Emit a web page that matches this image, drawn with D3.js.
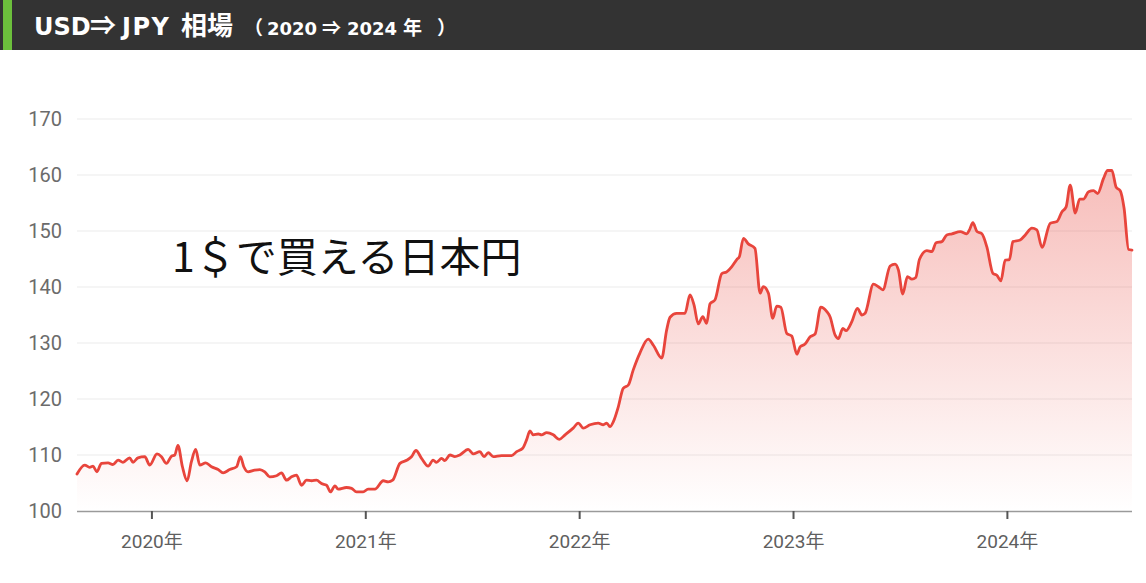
<!DOCTYPE html>
<html>
<head>
<meta charset="utf-8">
<script src="https://cdn.jsdelivr.net/npm/d3@7"></script>
<style>
  html, body { margin: 0; padding: 0; background: #fff; }
  svg { display: block; }
</style>
</head>
<body>
<svg id="chart" width="1146" height="583"></svg>
<script>
// ---- data (decimal year, USD/JPY) ----
const years = [
  2019.652, 2019.688, 2019.711, 2019.727, 2019.745, 2019.766, 2019.797, 2019.820, 2019.844, 2019.867,
  2019.898, 2019.914, 2019.937, 2019.969, 2019.992, 2020.026, 2020.047, 2020.070, 2020.094, 2020.109,
  2020.124, 2020.145, 2020.167, 2020.187, 2020.207, 2020.226, 2020.254, 2020.281, 2020.312, 2020.335,
  2020.366, 2020.398, 2020.416, 2020.432, 2020.452, 2020.483, 2020.507, 2020.530, 2020.553, 2020.585,
  2020.608, 2020.632, 2020.655, 2020.678, 2020.702, 2020.725, 2020.749, 2020.772, 2020.795, 2020.819,
  2020.837, 2020.858, 2020.873, 2020.912, 2020.936, 2020.959, 2020.990, 2021.013, 2021.045, 2021.084,
  2021.107, 2021.128, 2021.162, 2021.196, 2021.216, 2021.237, 2021.263, 2021.294, 2021.317, 2021.333,
  2021.357, 2021.372, 2021.396, 2021.419, 2021.442, 2021.481, 2021.505, 2021.536, 2021.555, 2021.575,
  2021.598, 2021.637, 2021.684, 2021.708, 2021.736, 2021.754, 2021.770, 2021.785, 2021.809, 2021.824,
  2021.848, 2021.879, 2021.907, 2021.934, 2021.972, 2021.996, 2022.019, 2022.051, 2022.089, 2022.113,
  2022.129, 2022.144, 2022.160, 2022.183, 2022.206, 2022.230, 2022.253, 2022.284, 2022.323, 2022.347,
  2022.386, 2022.409, 2022.425, 2022.456, 2022.495, 2022.518, 2022.537, 2022.557, 2022.578, 2022.596,
  2022.612, 2022.635, 2022.667, 2022.690, 2022.713, 2022.737, 2022.749, 2022.768, 2022.791, 2022.822,
  2022.846, 2022.861, 2022.885, 2022.905, 2022.924, 2022.943, 2022.971, 2022.994, 2023.018, 2023.033,
  2023.056, 2023.080, 2023.103, 2023.130, 2023.158, 2023.173, 2023.197, 2023.212, 2023.233, 2023.248,
  2023.275, 2023.301, 2023.322, 2023.337, 2023.376, 2023.399, 2023.420, 2023.454, 2023.477, 2023.493,
  2023.513, 2023.535, 2023.556, 2023.574, 2023.591, 2023.626, 2023.649, 2023.669, 2023.696, 2023.719,
  2023.743, 2023.782, 2023.813, 2023.825, 2023.841, 2023.860, 2023.883, 2023.906, 2023.935, 2023.953,
  2023.972, 2023.992, 2024.012, 2024.028, 2024.062, 2024.086, 2024.117, 2024.140, 2024.164, 2024.203,
  2024.234, 2024.257, 2024.277, 2024.296, 2024.320, 2024.340, 2024.358, 2024.382, 2024.405, 2024.424,
  2024.452, 2024.471, 2024.491, 2024.511, 2024.530, 2024.548, 2024.569, 2024.585
];
const rates = [
  106.6, 108.2, 107.8, 108.0, 107.0, 108.5, 108.6, 108.3, 109.1, 108.7,
  109.5, 108.7, 109.5, 109.7, 108.2, 110.2, 109.7, 108.5, 109.8, 110.0,
  111.7, 107.9, 105.4, 108.8, 111.0, 108.2, 108.6, 107.9, 107.4, 106.8,
  107.4, 107.9, 109.7, 107.9, 107.0, 107.3, 107.4, 107.0, 106.1, 106.3,
  106.8, 105.5, 106.1, 106.4, 104.6, 105.5, 105.4, 105.5, 104.9, 104.6,
  103.4, 104.5, 103.9, 104.2, 104.05, 103.4, 103.4, 103.9, 103.9, 105.4,
  105.2, 105.5, 108.5, 109.1, 109.7, 110.8, 109.4, 108.0, 109.1, 108.7,
  109.4, 109.0, 110.0, 109.7, 110.0, 111.0, 110.2, 110.6, 109.7, 110.4,
  109.7, 109.9, 109.9, 110.6, 111.2, 112.7, 114.3, 113.6, 113.75, 113.6,
  114.0, 113.6, 112.8, 113.6, 114.8, 115.7, 114.8, 115.4, 115.7, 115.4,
  115.7, 115.05, 115.95, 118.6, 121.9, 122.5, 125.2, 128.2, 130.7, 129.6,
  127.3, 132.3, 134.6, 135.3, 135.3, 138.6, 136.8, 133.4, 134.7, 133.5,
  137.0, 137.7, 142.4, 142.7, 143.6, 144.9, 145.4, 148.7, 147.7, 146.9,
  138.9, 140.05, 138.9, 134.4, 136.6, 136.4, 131.7, 131.25, 128.0, 129.3,
  129.8, 131.1, 131.6, 136.4, 135.6, 134.7, 131.4, 130.8, 132.6, 132.2,
  133.8, 136.2, 135.0, 135.3, 140.5, 140.05, 139.5, 143.75, 144.1, 143.0,
  138.75, 141.85, 141.4, 141.7, 144.9, 146.5, 146.3, 147.9, 148.1, 149.3,
  149.5, 149.9, 149.5, 150.2, 151.5, 149.9, 149.5, 147.2, 142.4, 142.1,
  141.1, 144.8, 144.9, 148.1, 148.4, 149.3, 150.5, 150.2, 147.1, 151.4,
  151.7, 153.4, 154.3, 158.2, 153.2, 155.7, 155.7, 157.0, 157.2, 156.7,
  159.4, 160.8, 160.8, 157.8, 157.2, 154.05, 146.7, 146.6
];
const yTicks = [100, 110, 120, 130, 140, 150, 160, 170];
const xTicks = [2020, 2021, 2022, 2023, 2024];
const xTickSuffix = "年";
const titleMain = "USD⇒JPY 相場";
const titleSub = "（2020 ⇒ 2024 年）";
const annotation = "1＄で買える日本円";

// ---- layout ----
const svg = d3.select("#chart");
const W = 1146, H = 583;
const plot = { left: 77, right: 1132, top: 119, bottom: 511 };

// header bar
svg.append("rect").attr("x", 0).attr("y", 0).attr("width", W).attr("height", 50).attr("fill", "#333333");
svg.append("rect").attr("x", 3).attr("y", 0).attr("width", 9).attr("height", 50).attr("fill", "#6cbf3c");

// split a string into pieces: ASCII words, and single non-ASCII characters
function pieces(str) {
  const out = [];
  let cur = "";
  for (const ch of str) {
    const code = ch.charCodeAt(0);
    if (code < 128 && ch !== " ") { cur += ch; continue; }
    if (cur) { out.push({ text: cur, ascii: true }); cur = ""; }
    if (ch !== " ") out.push({ text: ch, ascii: false });
  }
  if (cur) out.push({ text: cur, ascii: true });
  return out;
}
// merge adjacent CJK ideographs of the main title
const mainPieces = pieces(titleMain).reduce((acc, p) => {
  const last = acc[acc.length - 1];
  if (last && !last.ascii && !p.ascii && /[\u4e00-\u9fff]/.test(last.text) && /[\u4e00-\u9fff]/.test(p.text)) last.text += p.text;
  else acc.push({ ...p });
  return acc;
}, []);
const subPieces = pieces(titleSub);
const mainX = [34, 90, 122, 181];
const subX = [244, 267, 322, 347, 403, 437];

const header = svg.append("g").attr("fill", "#ffffff").attr("font-weight", 700);
mainPieces.forEach((p, i) => {
  header.append("text")
    .attr("x", mainX[i]).attr("y", 35)
    .attr("font-family", p.ascii ? "'DejaVu Sans', sans-serif" : "'Noto Sans CJK JP', sans-serif")
    .attr("font-size", p.ascii ? 24 : 26)
    .attr("letter-spacing", p.text === "JPY" ? 1.5 : 0)
    .text(p.text);
});
subPieces.forEach((p, i) => {
  header.append("text")
    .attr("x", subX[i]).attr("y", 35)
    .attr("font-family", p.ascii ? "'DejaVu Sans', sans-serif" : "'Noto Sans CJK JP', sans-serif")
    .attr("font-size", p.ascii ? 18 : 19)
    .text(p.text);
});

// scales
const x = d3.scaleLinear().domain([d3.min(years), d3.max(years)]).range([plot.left, plot.right]);
const y = d3.scaleLinear().domain([100, 170]).range([plot.bottom, plot.top]);

const data = years.map((t, i) => ({ t, v: rates[i] }));

// gridlines
svg.append("g")
  .selectAll("line")
  .data(yTicks.filter(d => d !== 100))
  .join("line")
  .attr("x1", plot.left).attr("x2", plot.right)
  .attr("y1", d => y(d)).attr("y2", d => y(d))
  .attr("stroke", "#ebebeb").attr("stroke-width", 1);

// y axis labels
const yAxis = svg.append("g")
  .attr("transform", `translate(${plot.left},0)`)
  .call(d3.axisLeft(y).tickValues(yTicks).tickSize(0).tickPadding(15));
yAxis.select(".domain").remove();
yAxis.selectAll("text")
  .attr("fill", "#6b6b6b")
  .attr("font-family", "Roboto, 'Noto Sans', sans-serif")
  .attr("font-size", 20);

// gradient
const defs = svg.append("defs");
const grad = defs.append("linearGradient")
  .attr("id", "areaGrad")
  .attr("gradientUnits", "userSpaceOnUse")
  .attr("x1", 0).attr("x2", 0)
  .attr("y1", y(162)).attr("y2", y(100));
grad.append("stop").attr("offset", "0%").attr("stop-color", "#e8453c").attr("stop-opacity", 0.36);
grad.append("stop").attr("offset", "100%").attr("stop-color", "#e8453c").attr("stop-opacity", 0.0);

// area
const area = d3.area().x(d => x(d.t)).y0(y(100)).y1(d => y(d.v)).curve(d3.curveMonotoneX);
svg.append("path").datum(data).attr("d", area).attr("fill", "url(#areaGrad)");

// x axis
const xAxis = svg.append("g")
  .attr("transform", `translate(0,${plot.bottom})`)
  .call(d3.axisBottom(x).tickValues(xTicks).tickFormat(d => d + xTickSuffix).tickSize(8).tickPadding(16));
xAxis.select(".domain")
  .attr("d", `M${plot.left},0.5H${plot.right}`)
  .attr("stroke", "#9a9a9a").attr("stroke-width", 1.5);
xAxis.selectAll(".tick line").attr("stroke", "#555").attr("stroke-width", 2);
xAxis.selectAll("text")
  .attr("fill", "#5f5f5f")
  .attr("font-family", "Roboto, 'Noto Sans CJK JP', sans-serif")
  .attr("font-size", 19);

// line
const line = d3.line().x(d => x(d.t)).y(d => y(d.v)).curve(d3.curveMonotoneX);
svg.append("path").datum(data).attr("d", line)
  .attr("fill", "none").attr("stroke", "#e8453c").attr("stroke-width", 2.8)
  .attr("stroke-linejoin", "round").attr("stroke-linecap", "round");

// annotation
svg.append("text")
  .attr("x", 172).attr("y", 272)
  .attr("fill", "#111")
  .attr("font-family", "'Noto Sans CJK JP', sans-serif")
  .attr("font-weight", 400)
  .attr("font-size", 41)
  .text(annotation);
</script>
</body>
</html>
